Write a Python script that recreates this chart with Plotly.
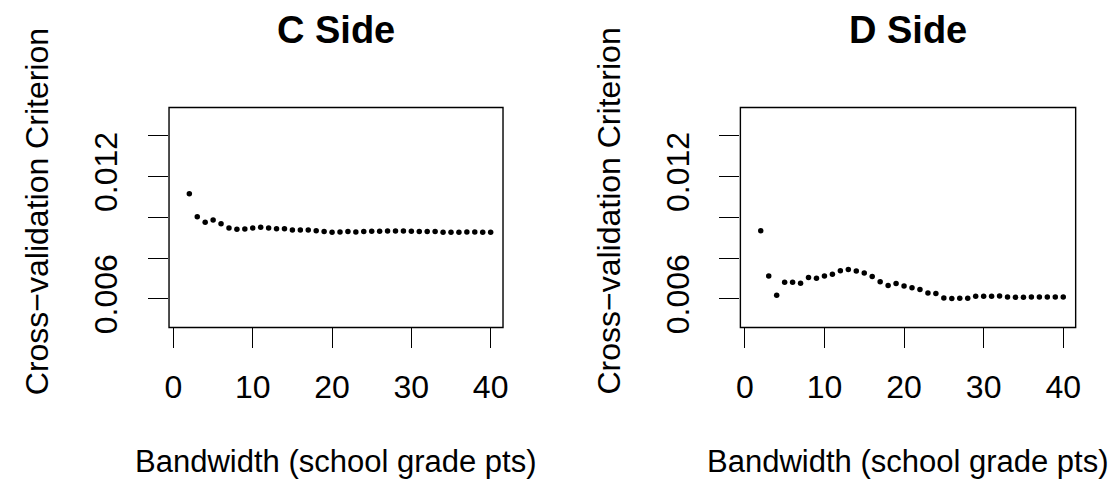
import plotly.graph_objects as go

bandwidth = list(range(2, 41))

c_side = [0.01116, 0.01003, 0.00976, 0.00987, 0.00969, 0.00948, 0.00942, 0.00944,
          0.00948, 0.00952, 0.00948, 0.00945, 0.00945, 0.00939, 0.00939, 0.00939,
          0.00935, 0.00931, 0.00927, 0.00929, 0.00931, 0.00929, 0.00931, 0.00932,
          0.00932, 0.00934, 0.00934, 0.00934, 0.00932, 0.00931, 0.00931, 0.00931,
          0.00927, 0.00927, 0.00927, 0.00929, 0.00929, 0.00927, 0.00927]

d_side = [0.00935, 0.00713, 0.00618, 0.00682, 0.00682, 0.00677, 0.00705, 0.00702,
          0.00713, 0.00721, 0.00739, 0.00745, 0.00737, 0.00727, 0.00710, 0.00685,
          0.00666, 0.00676, 0.00663, 0.00655, 0.00647, 0.00629, 0.00627, 0.00605,
          0.00602, 0.00603, 0.00603, 0.00613, 0.00613, 0.00613, 0.00615, 0.00610,
          0.00608, 0.00608, 0.00610, 0.00610, 0.00610, 0.00610, 0.00610]

panel_titles = ["C Side", "D Side"]
x_ticks = [0, 10, 20, 30, 40]
y_ticks = [0.006, 0.008, 0.010, 0.012, 0.014]
y_ticktext = ["0.006", "", "", "0.012", ""]
x_title = "Bandwidth (school grade pts)"
y_title = "Cross\u2212validation Criterion"

W, H = 1117, 483
FONT = "Liberation Sans, Arial, sans-serif"
TICK_SIZE = 32
LAB_SIZE = 31
TITLE_SIZE = 38

xdom = [[158.3 / W, 495.0 / W], [734.3 / W, 1072.3 / W]]
ydom = [1 - 323.5 / H, 1 - 100.7 / H]

fig = go.Figure()
for i, ys in enumerate([c_side, d_side]):
    fig.add_trace(go.Scatter(
        x=bandwidth, y=ys, mode="markers",
        marker=dict(color="black", size=5.5, line=dict(width=0)),
        xaxis="x" if i == 0 else "x2", yaxis="y" if i == 0 else "y2",
        showlegend=False, hoverinfo="x+y"))

axis_common = dict(showgrid=False, zeroline=False, showline=False,
                   ticks="outside", ticklen=20, tickwidth=1.4, tickcolor="black",
                   tickfont=dict(family=FONT, size=TICK_SIZE, color="black"))

layout = dict(
    width=W, height=H, margin=dict(l=0, r=0, t=0, b=0),
    paper_bgcolor="white", plot_bgcolor="white",
    font=dict(family=FONT, color="black"),
    showlegend=False,
)
for i in range(2):
    sx = "" if i == 0 else "2"
    layout["xaxis" + sx] = dict(domain=xdom[i], range=[-0.56, 41.56],
                                tickvals=x_ticks, ticklabelstandoff=11,
                                anchor="y" + sx, **axis_common)
    layout["yaxis" + sx] = dict(domain=ydom, range=[0.0046, 0.0154],
                                tickvals=y_ticks, ticktext=y_ticktext,
                                tickangle=-90, ticklabelstandoff=18,
                                anchor="x" + sx, **axis_common)
fig.update_layout(**layout)

shapes = []
annotations = []
for i in range(2):
    xd = xdom[i]
    shapes.append(dict(type="rect", xref="paper", yref="paper",
                       x0=xd[0], x1=xd[1], y0=ydom[0], y1=ydom[1],
                       line=dict(color="black", width=1.4)))
    cx = (xd[0] + xd[1]) / 2
    annotations.append(dict(text="<b>" + panel_titles[i] + "</b>", x=cx, y=1 - 22 / H,
                            xref="paper", yref="paper", showarrow=False,
                            xanchor="center", yanchor="middle",
                            font=dict(family=FONT, size=TITLE_SIZE, color="black")))
    annotations.append(dict(text=x_title, x=cx, y=1 - 459 / H,
                            xref="paper", yref="paper", showarrow=False,
                            xanchor="center", yanchor="middle",
                            font=dict(family=FONT, size=LAB_SIZE, color="black")))
    ylab_x = (26 if i == 0 else 602) / W
    annotations.append(dict(text=y_title, x=ylab_x, y=1 - 206 / H,
                            xref="paper", yref="paper", showarrow=False, textangle=-90,
                            xanchor="center", yanchor="middle",
                            font=dict(family=FONT, size=TICK_SIZE, color="black")))
fig.update_layout(shapes=shapes, annotations=annotations)

fig.write_html("out.html")
